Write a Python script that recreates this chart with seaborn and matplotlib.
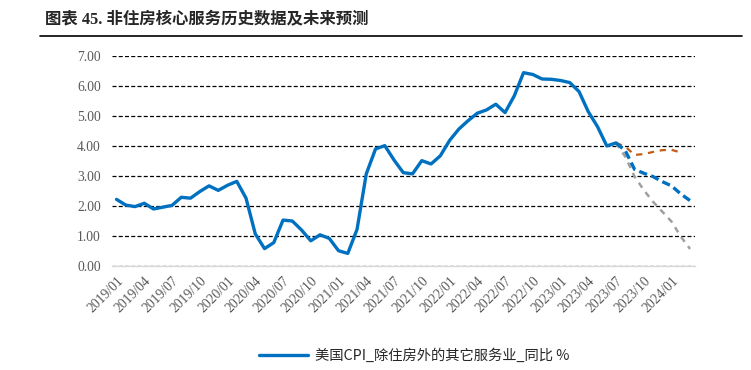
import matplotlib
matplotlib.use("Agg")
import matplotlib.pyplot as plt
import seaborn as sns
import pandas as pd
import numpy as np

# 2019/01 .. 2024/03 monthly
months = pd.period_range("2019-01", "2024-03", freq="M").strftime("%Y/%m").tolist()

hist = [2.22, 2.03, 1.98, 2.09, 1.90, 1.96, 2.02, 2.29, 2.26, 2.48,
        2.67, 2.52, 2.69, 2.82, 2.26, 1.07, 0.58, 0.78, 1.53, 1.50,
        1.20, 0.84, 1.04, 0.92, 0.51, 0.42, 1.22, 3.07, 3.90, 4.01,
        3.53, 3.11, 3.07, 3.51, 3.40, 3.67, 4.18, 4.56, 4.84, 5.09,
        5.20, 5.39, 5.11, 5.67, 6.44, 6.38, 6.23, 6.22, 6.18, 6.11,
        5.81, 5.14, 4.64, 4.00, 4.10]
# forecasts start from 2023/07
fc_base = [4.10, 3.84, 3.22, 3.09, 2.98, 2.81, 2.67, 2.40, 2.18]
fc_high = [4.10, 3.98, 3.70, 3.73, 3.80, 3.86, 3.87, 3.78]
fc_low = [4.10, 3.64, 2.98, 2.53, 2.14, 1.81, 1.48, 0.98, 0.57]

n = len(months)
start = len(hist) - 1


def pad(vals, offset):
    out = [np.nan] * n
    out[offset:offset + len(vals)] = vals
    return out


df = pd.DataFrame({
    "idx": np.arange(n),
    "hist": pad(hist, 0),
    "base": pad(fc_base, start),
    "high": pad(fc_high, start),
    "low": pad(fc_low, start),
})

sns.set_style("white")
plt.rcParams["font.family"] = ["Liberation Serif", "Noto Sans CJK SC"]

fig = plt.figure(figsize=(7.51, 3.70), dpi=100)
ax = fig.add_axes([0.149, 0.281, 0.776, 0.568])

blue = "#0070C0"
sns.lineplot(data=df, x="idx", y="low", ax=ax, color="#A0A0A0", linewidth=1.8,
             linestyle=(0, (2.4, 2.2)))
sns.lineplot(data=df, x="idx", y="high", ax=ax, color="#C55A11", linewidth=1.6,
             linestyle=(0, (2.8, 2.6)))
sns.lineplot(data=df, x="idx", y="base", ax=ax, color=blue, linewidth=2.4,
             linestyle=(0, (2.5, 1.3)))
sns.lineplot(data=df, x="idx", y="hist", ax=ax, color=blue, linewidth=2.4,
             label="美国CPI_除住房外的其它服务业_同比 %")

ax.set_xlim(-0.5, n - 0.5)
ax.set_ylim(0, 7)
ax.set_yticks(np.arange(0, 8, 1))
ax.set_yticklabels([f"{v:.2f}" for v in range(8)])
ax.yaxis.grid(True, color="black", linewidth=0.9, linestyle=(0, (3.2, 1.8)))
ax.set_axisbelow(True)

ax.set_xticks(np.arange(0, n, 3))
ax.set_xticklabels(months[::3], rotation=45, ha="right", rotation_mode="anchor")
ax.set_xticks(np.arange(-0.5, n, 3), minor=True)
ax.tick_params(axis="x", which="major", length=0, pad=6, labelsize=9.8, colors="#595959")
ax.tick_params(axis="x", which="minor", length=5, width=0.8, color="#D9D9D9", direction="out")
ax.tick_params(axis="y", length=0, labelsize=9.8, colors="#595959", pad=8)
for lab in ax.get_xticklabels():
    lab.set_color("#595959")

for s in ["left", "right", "top"]:
    ax.spines[s].set_visible(False)
ax.spines["bottom"].set_color("#D9D9D9")
ax.spines["bottom"].set_linewidth(1.0)
ax.set_xlabel("")
ax.set_ylabel("")

leg = ax.get_legend()
leg.remove()
handles, labels = ax.get_legend_handles_labels()
fig.legend(handles[-1:], labels[-1:], loc="center", bbox_to_anchor=(0.552, 0.038),
           frameon=False, handlelength=3.4, handletextpad=0.5,
           prop={"family": ["Noto Sans CJK SC"], "size": 10.3})

fig.text(0.06, 0.948, "图表 45. 非住房核心服务历史数据及未来预测", fontsize=11.8,
         fontweight="bold", va="center", ha="left",
         family=["Liberation Serif", "Noto Sans CJK SC"])
fig.add_artist(plt.Line2D([0.053, 0.988], [0.902, 0.902], color="black", linewidth=1.2,
                          transform=fig.transFigure))

fig.savefig("out.png", dpi=100)
